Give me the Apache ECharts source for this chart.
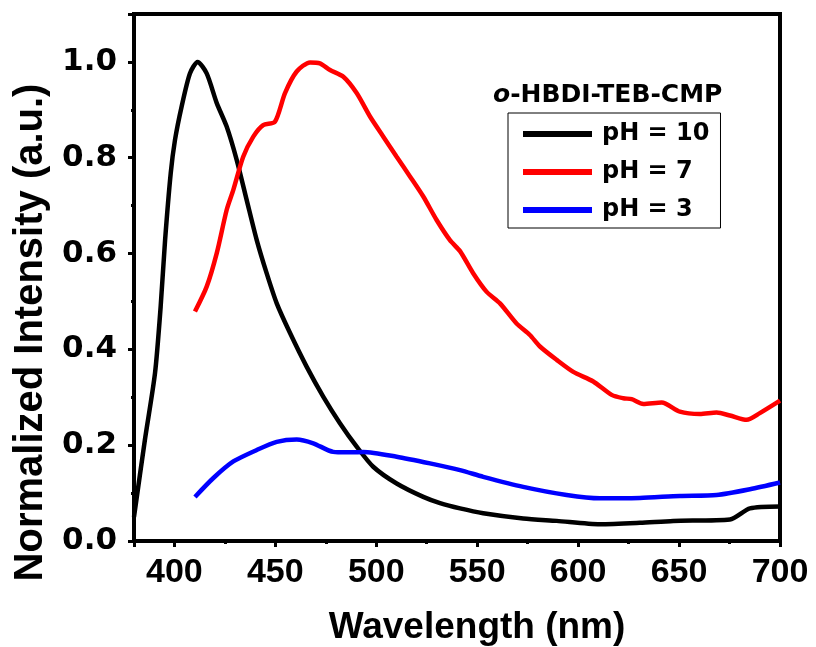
<!DOCTYPE html>
<html>
<head>
<meta charset="utf-8">
<script src="https://cdn.jsdelivr.net/npm/echarts@6/dist/echarts.min.js"></script>
<style>html,body{margin:0;padding:0;background:#fff}#c{width:816px;height:647px}</style>
</head>
<body>
<div id="c"></div>
<script>
// ---- data ----
const seriesNames = ['pH = 10', 'pH = 7', 'pH = 3'];
const legendTitle = 'o-HBDI-TEB-CMP';
const xTitle = 'Wavelength (nm)';
const yTitle = 'Normalized Intensity (a.u.)';

const wlPH10 = [380, 385.4, 390.4, 393.2, 395.4, 398.2, 400.3, 403.6, 407.7, 411.5, 416, 421, 425.9, 430.9, 435.8, 440.8, 445.7, 450.7, 457.3, 465.5, 473.8, 482, 490.3, 498.5, 510.1, 523.3, 531.6, 541.5, 553, 572.8, 589.4, 610.8, 630.6, 647.1, 675.2, 685.1, 700];
const valPH10 = [0.05, 0.211, 0.350, 0.489, 0.628, 0.768, 0.837, 0.907, 0.976, 1.0, 0.976, 0.914, 0.865, 0.795, 0.712, 0.628, 0.559, 0.496, 0.434, 0.364, 0.301, 0.246, 0.197, 0.155, 0.120, 0.092, 0.079, 0.068, 0.058, 0.047, 0.042, 0.035, 0.038, 0.042, 0.045, 0.068, 0.072];

const wlPH7 = [410.2, 416, 421, 425.9, 429.2, 434.1, 439.1, 444, 449.8, 454.8, 460.6, 467.2, 472.1, 477.1, 483.7, 490.3, 496.9, 503.5, 510.1, 516.7, 523.3, 529.9, 536.5, 541.5, 548, 554.7, 561.3, 569.5, 576.1, 581.1, 589.4, 597.6, 607.5, 616.6, 622.4, 626.5, 632.3, 641.4, 650.4, 660.3, 668.6, 675.2, 683.5, 690, 700];
const valPH7 = [0.479, 0.531, 0.601, 0.691, 0.733, 0.802, 0.844, 0.868, 0.875, 0.935, 0.980, 0.999, 0.997, 0.983, 0.969, 0.935, 0.886, 0.844, 0.802, 0.761, 0.719, 0.670, 0.628, 0.605, 0.559, 0.520, 0.496, 0.454, 0.430, 0.406, 0.378, 0.353, 0.333, 0.305, 0.298, 0.296, 0.286, 0.289, 0.270, 0.265, 0.268, 0.262, 0.253, 0.267, 0.293];

const wlPH3 = [410.2, 419.2, 429.2, 440.8, 450.7, 460.6, 468.8, 478.7, 485.3, 493.6, 510.1, 526.6, 541.5, 553, 572.8, 594.3, 610.8, 630.6, 650.4, 668.6, 685.1, 700];
const valPH3 = [0.092, 0.131, 0.166, 0.190, 0.207, 0.212, 0.204, 0.186, 0.185, 0.186, 0.176, 0.162, 0.148, 0.134, 0.113, 0.096, 0.089, 0.090, 0.094, 0.096, 0.108, 0.122];

const xMin = 380, xMax = 700, xMajor = 50, xMinor = 25;
const yMin = 0, yMax = 1.1, yMajor = 0.2, yMinor = 0.1;

// ---- chart ----
const pair = (xs, ys) => xs.map((x, i) => [x, ys[i]]);
const colors = ['#000000', '#ff0000', '#0000ff'];
const dataSets = [pair(wlPH10, valPH10), pair(wlPH7, valPH7), pair(wlPH3, valPH3)];

const chart = echarts.init(document.getElementById('c'), null, {renderer: 'canvas'});
const boldSans = 'Liberation Sans';
const wide = 'DejaVu Sans';

chart.setOption({
  animation: false,
  backgroundColor: '#ffffff',
  title: {
    text: '{i|o}{n|-HBDI-TEB-CMP}',
    left: 488, top: 78,
    textStyle: {
      rich: {
        i: {fontFamily: wide, fontWeight: 'bold', fontStyle: 'italic', fontSize: 25, color: '#000'},
        n: {fontFamily: wide, fontWeight: 'bold', fontSize: 25, color: '#000'}
      }
    }
  },
  legend: {
    data: seriesNames,
    orient: 'vertical',
    left: 508, top: 113,
    padding: [7, 11, 4, 15],
    itemGap: 10,
    itemWidth: 69, itemHeight: 6,
    icon: 'rect',
    borderColor: '#000', borderWidth: 1, borderRadius: 0,
    textStyle: {fontFamily: wide, fontWeight: 'bold', fontSize: 24, color: '#000', lineHeight: 28, padding: [0, 0, 0, 5]}
  },
  grid: {
    left: 134, top: 14, right: 36, bottom: 106,
    containLabel: false, outerBoundsMode: 'none',
    show: true, borderColor: '#000', borderWidth: 4, backgroundColor: 'transparent'
  },
  xAxis: [{
    type: 'value', min: xMin, max: xMax,
    splitNumber: 6, minInterval: xMajor, maxInterval: xMajor,
    axisLine: {lineStyle: {color: '#000', width: 4}},
    axisTick: {length: 6, lineStyle: {color: '#000', width: 3}},
    splitLine: {show: false},
    axisLabel: {
      margin: 15, color: '#000', fontFamily: boldSans, fontWeight: 'bold', fontSize: 34,
      formatter: v => (Math.abs(v % xMajor) < 1e-6 ? String(v) : '')
    },
    name: xTitle, nameLocation: 'middle', nameGap: 68,
    nameTextStyle: {fontFamily: boldSans, fontWeight: 'bold', fontSize: 37, color: '#000', padding: [0, 0, 0, 40]}
  }, {
    type: 'value', min: xMin, max: xMax, position: 'bottom',
    splitNumber: 13, minInterval: xMinor, maxInterval: xMinor,
    axisLine: {show: false},
    axisTick: {length: 3, lineStyle: {color: '#000', width: 3}},
    axisLabel: {show: false}, splitLine: {show: false}
  }],
  yAxis: [{
    type: 'value', min: yMin, max: yMax, interval: yMajor,
    axisLine: {lineStyle: {color: '#000', width: 4}},
    axisTick: {length: 6, lineStyle: {color: '#000', width: 3}},
    splitLine: {show: false},
    axisLabel: {
      margin: 17, color: '#000', fontFamily: wide, fontWeight: 'bold', fontSize: 31,
      formatter: v => (Math.abs(v / yMajor - Math.round(v / yMajor)) < 1e-6 ? v.toFixed(1) : '')
    },
    name: yTitle, nameLocation: 'middle', nameGap: 82,
    nameTextStyle: {fontFamily: boldSans, fontWeight: 'bold', fontSize: 40, color: '#000', padding: [0, 110, 0, 0]}
  }, {
    type: 'value', min: yMin, max: yMax, interval: yMinor, position: 'left',
    axisLine: {show: false},
    axisTick: {length: 3, lineStyle: {color: '#000', width: 3}},
    axisLabel: {show: false}, splitLine: {show: false}
  }],
  series: seriesNames.map((name, i) => ({
    name, type: 'line', xAxisIndex: 0, yAxisIndex: 0,
    data: dataSets[i], showSymbol: false, symbol: 'none',
    smooth: 0.25,
    color: colors[i],
    lineStyle: {color: colors[i], width: 4.5}
  }))
});
</script>
</body>
</html>
